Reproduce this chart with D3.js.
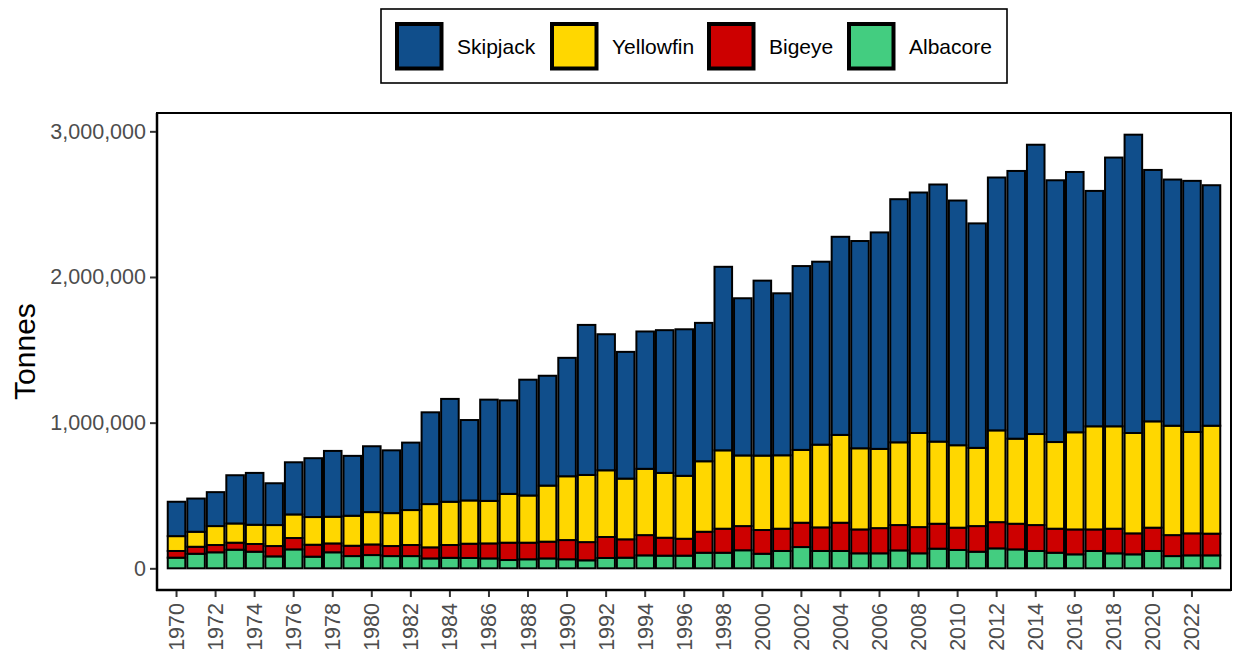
<!DOCTYPE html>
<html>
<head>
<meta charset="utf-8">
<script src="https://cdn.jsdelivr.net/npm/d3@7"></script>
<style>
  html, body { margin: 0; padding: 0; background: #fff; }
  svg { display: block; font-family: "Liberation Sans", Arial, Helvetica, sans-serif; }
</style>
</head>
<body>
<svg id="chart" width="1235" height="656"></svg>
<script>
// ---- Data (tonnes) ----
const years = [1970,1971,1972,1973,1974,1975,1976,1977,1978,1979,1980,1981,1982,1983,1984,1985,1986,1987,1988,1989,1990,1991,1992,1993,1994,1995,1996,1997,1998,1999,2000,2001,2002,2003,2004,2005,2006,2007,2008,2009,2010,2011,2012,2013,2014,2015,2016,2017,2018,2019,2020,2021,2022,2023];

const albacore = [73000,100000,110000,128000,114000,82000,130000,80000,110000,84000,91000,84000,84000,68000,72000,71000,68000,57000,62000,68000,62000,55000,71000,73000,89000,87000,87000,107000,107000,124000,100000,119000,146000,119000,119000,103000,103000,123000,103000,135000,126000,114000,137000,130000,119000,107000,96000,119000,103000,96000,119000,84000,89000,89000];

const bigeye = [46000,48000,50000,48000,53000,71000,78000,82000,61000,71000,73000,69000,76000,76000,88000,98000,103000,119000,114000,115000,132000,125000,144000,126000,139000,123000,116000,144000,165000,166000,163000,153000,167000,162000,194000,164000,173000,174000,180000,171000,153000,176000,180000,176000,178000,165000,171000,148000,169000,144000,160000,144000,151000,149000];

const yellowfin = [102000,103000,130000,132000,132000,144000,162000,190000,183000,206000,222000,226000,240000,297000,297000,297000,292000,335000,324000,385000,438000,461000,458000,417000,455000,445000,432000,484000,538000,485000,511000,504000,500000,568000,603000,557000,544000,568000,646000,564000,566000,537000,630000,584000,625000,595000,667000,708000,703000,689000,730000,751000,696000,741000];

const skipjack = [236000,228000,233000,331000,356000,287000,358000,404000,452000,411000,452000,431000,463000,630000,706000,552000,695000,642000,795000,754000,813000,1030000,934000,870000,943000,980000,1006000,950000,1260000,1079000,1201000,1112000,1262000,1256000,1360000,1423000,1486000,1669000,1651000,1765000,1680000,1541000,1736000,1838000,1986000,1797000,1787000,1616000,1845000,2048000,1726000,1690000,1724000,1651000];

const speciesStack = ["Albacore", "Bigeye", "Yellowfin", "Skipjack"];      // bottom -> top
const legendOrder  = ["Skipjack", "Yellowfin", "Bigeye", "Albacore"];
const speciesColors = ["#43CD80", "#CD0000", "#FFD700", "#104E8B"];          // matches speciesStack
const yTicks = [0, 1000000, 2000000, 3000000];
const xTickYears = years.filter(y => y % 2 === 0);

// ---- Build table ----
const seriesArrays = { Albacore: albacore, Bigeye: bigeye, Yellowfin: yellowfin, Skipjack: skipjack };
const table = years.map((yr, i) => {
  const row = { year: yr };
  speciesStack.forEach(s => row[s] = seriesArrays[s][i]);
  return row;
});

// ---- Layout ----
const svg = d3.select("#chart");
const panel = { left: 157, right: 1231, top: 113, bottom: 590 };

const color = d3.scaleOrdinal().domain(speciesStack).range(speciesColors);

const x = d3.scaleBand()
  .domain(years)
  .range([panel.left, panel.right])
  .paddingInner(0.1)
  .paddingOuter(0.55);

const stack = d3.stack().keys(speciesStack);
const stacked = stack(table);
const maxTotal = d3.max(stacked[stacked.length - 1], d => d[1]);
const pad = maxTotal * 0.05;
const y = d3.scaleLinear()
  .domain([-pad, maxTotal + pad])
  .range([panel.bottom, panel.top]);

// ---- Bars ----
const gBars = svg.append("g");
gBars.selectAll("g.layer")
  .data(stacked)
  .join("g")
  .attr("class", "layer")
  .attr("fill", d => color(d.key))
  .selectAll("rect")
  .data(d => d)
  .join("rect")
  .attr("x", d => x(d.data.year))
  .attr("width", x.bandwidth())
  .attr("y", d => y(d[1]))
  .attr("height", d => y(d[0]) - y(d[1]))
  .attr("stroke", "#000")
  .attr("stroke-width", 2);

// ---- Panel border ----
svg.append("rect")
  .attr("x", panel.left).attr("y", panel.top)
  .attr("width", panel.right - panel.left)
  .attr("height", panel.bottom - panel.top)
  .attr("fill", "none")
  .attr("stroke", "#000")
  .attr("stroke-width", 2);
// slightly heavier axis lines on left and bottom
svg.append("line").attr("x1", panel.left).attr("x2", panel.left)
  .attr("y1", panel.top).attr("y2", panel.bottom + 1)
  .attr("stroke", "#000").attr("stroke-width", 2.5);
svg.append("line").attr("x1", panel.left - 1).attr("x2", panel.right)
  .attr("y1", panel.bottom).attr("y2", panel.bottom)
  .attr("stroke", "#000").attr("stroke-width", 2.5);

// ---- Y axis ----
const yAxis = svg.append("g")
  .attr("transform", `translate(${panel.left - 1},0)`)
  .call(d3.axisLeft(y).tickValues(yTicks).tickFormat(d3.format(",")).tickSize(6).tickPadding(4));
yAxis.select(".domain").remove();
yAxis.selectAll(".tick line").attr("stroke", "#333").attr("stroke-width", 2);
yAxis.selectAll(".tick text")
  .attr("fill", "#4d4d4d")
  .style("font-size", "21.5px");

// ---- X axis ----
const xAxis = svg.append("g")
  .attr("transform", `translate(0,${panel.bottom + 1})`)
  .call(d3.axisBottom(x).tickValues(xTickYears).tickSize(6).tickPadding(0));
xAxis.select(".domain").remove();
xAxis.selectAll(".tick line").attr("stroke", "#333").attr("stroke-width", 2);
xAxis.selectAll(".tick text")
  .attr("fill", "#4d4d4d")
  .style("font-size", "21.5px")
  .attr("text-anchor", "end")
  .attr("dy", "0.35em")
  .attr("transform", "translate(0,12) rotate(-90)")
  .attr("x", 0)
  .attr("y", 0);

// ---- Y title ----
svg.append("text")
  .attr("transform", `translate(24,${(panel.top + panel.bottom) / 2}) rotate(-90)`)
  .attr("text-anchor", "middle")
  .attr("dy", "0.35em")
  .style("font-size", "30px")
  .attr("fill", "#000")
  .text("Tonnes");

// ---- Legend ----
const legend = svg.append("g");
legend.append("rect")
  .attr("x", 381).attr("y", 9)
  .attr("width", 626).attr("height", 74)
  .attr("fill", "#fff").attr("stroke", "#000").attr("stroke-width", 1.6);

const keyX = [395, 550, 707, 847];
const items = legend.selectAll("g.item")
  .data(legendOrder)
  .join("g")
  .attr("class", "item")
  .attr("transform", (d, i) => `translate(${keyX[i]},22)`);
items.append("rect")
  .attr("x", 2).attr("y", 2)
  .attr("width", 44.5).attr("height", 44.5)
  .attr("fill", d => color(d))
  .attr("stroke", "#000").attr("stroke-width", 4);
items.append("text")
  .attr("x", 62).attr("y", 24.5)
  .attr("dy", "0.35em")
  .style("font-size", "21px")
  .attr("fill", "#000")
  .text(d => d);
</script>
</body>
</html>
